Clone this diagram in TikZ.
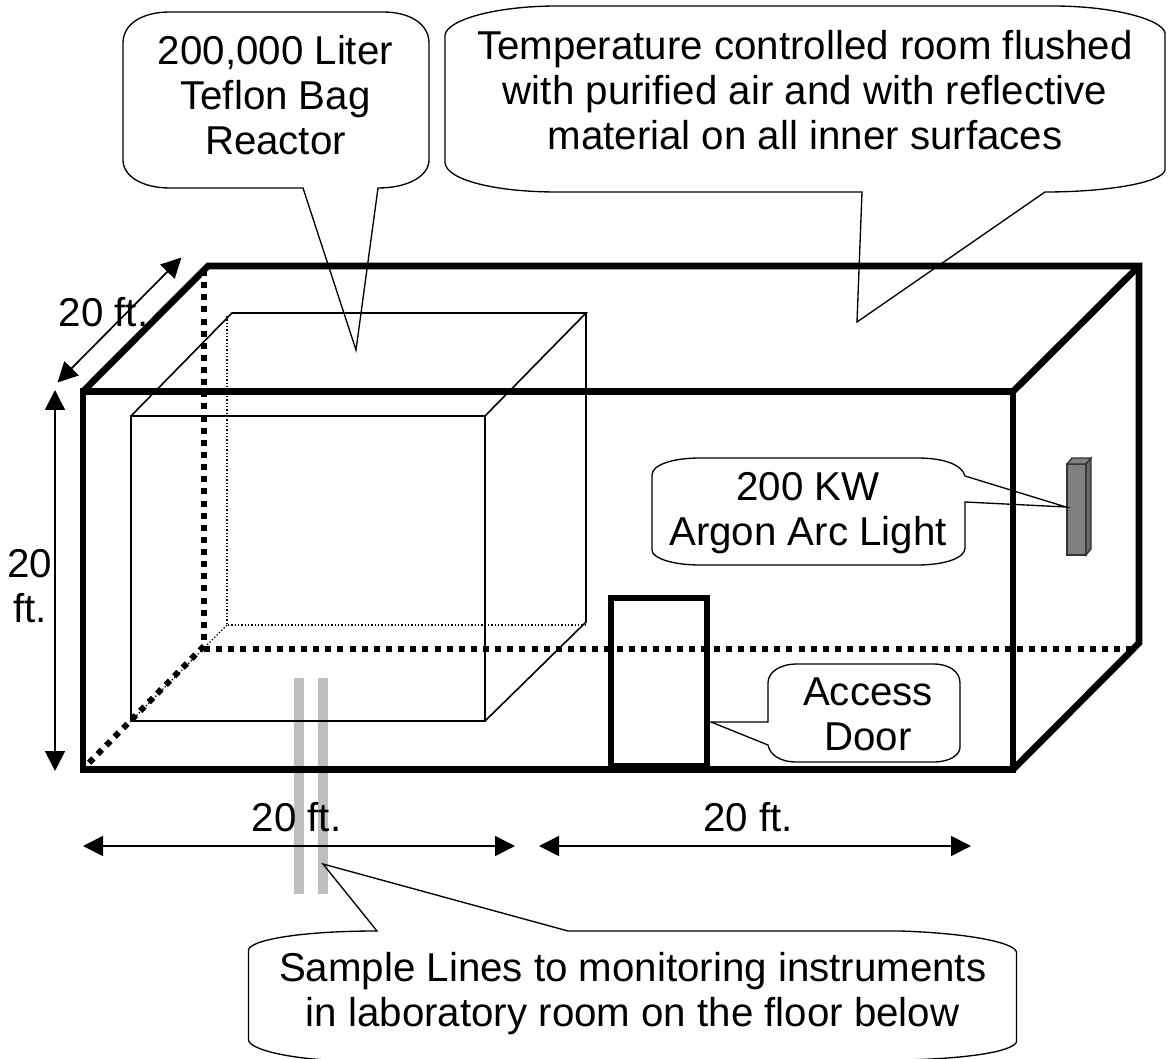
\documentclass[tikz,border=0pt]{standalone}
\usepackage{fontspec}
\setmainfont{Liberation Sans}
\usetikzlibrary{arrows.meta}
\tikzset{
  wall/.style={line width=5pt,line join=miter},
  hidden/.style={line width=4.5pt,dash pattern=on 4.5pt off 4.6pt},
  bagline/.style={line width=1.2pt},
  bagdots/.style={line width=1pt,dash pattern=on 1pt off 1.5pt},
  sampleline/.style={line width=7.5pt,draw=black!25},
  callout/.style={line width=1pt,line join=miter},
  lamp/.style={line width=1pt,draw=black!80},
  dimline/.style={line width=1.25pt,{Triangle[length=15pt,width=15pt]}-{Triangle[length=15pt,width=15pt]}},
  label/.style={font=\fontsize{30.2}{33.75}\selectfont,align=center,inner sep=0pt,anchor=base},
}
\begin{document}
\begin{tikzpicture}[x=0.75pt,y=-0.75pt]
\useasboundingbox (0,0) rectangle (1168,1059);
% sample lines
\draw[sampleline] (299,678) -- (299,894);
\draw[sampleline] (323,678) -- (323,894);
% reactor bag
\draw[bagline] (131,416) rectangle (485,721);
\draw[bagline] (131,416) -- (232,313) -- (586,313) -- (485,416);
\draw[bagline] (586,313) -- (586,622) -- (485,721);
\draw[bagdots] (227,316) -- (227,625) -- (586,625);
\draw[bagdots] (227,625) -- (131,721);
% room
\draw[hidden] (204,270) -- (204,649);
\draw[hidden] (204,649) -- (1135,649);
\draw[hidden] (204,646) -- (83,769);
\draw[wall] (83,391.5) rectangle (1013,769.5);
\draw[wall] (83,391.5) -- (208,266) -- (1139,266) -- (1139,643) -- (1013,769.5);
\draw[wall] (1139,266) -- (1013,391.5);
% door
\draw[line width=4.5pt] (611,598) rectangle (707,766);
% light
\draw[lamp,fill=black!50] (1067,464) rectangle (1086,555);
\draw[lamp,fill=black!50] (1067,464) -- (1072,458) -- (1091,458) -- (1086,464) -- cycle;
\draw[lamp,fill=black!60] (1086,464) -- (1091,458) -- (1091,549) -- (1086,555) -- cycle;
% dimensions
\draw[dimline] (57.5,382.5) -- (181.5,257.5);
\draw[dimline] (55,390) -- (55,771);
\draw[dimline] (83,846) -- (515,846);
\draw[dimline] (539,846) -- (971,846);
% callouts
\draw[callout] (123,43) .. controls (123,24) and (142,12) .. (170,12) -- (383,12)
  .. controls (410,12) and (429,24) .. (429,43) -- (429,160)
  .. controls (429,176) and (408,188) .. (378,188) -- (356,350) -- (303,188) -- (170,188)
  .. controls (142,188) and (123,176) .. (123,160) -- cycle;
\draw[callout] (445,35) .. controls (447,20) and (495,6) .. (557,6) -- (1053,6)
  .. controls (1115,6) and (1163,20) .. (1165,33) -- (1165,170)
  .. controls (1163,182) and (1110,192) .. (1045,192) -- (857,322) -- (862,192) -- (557,192)
  .. controls (495,192) and (447,180) .. (445,163) -- cycle;
\draw[callout] (652,475) .. controls (652,465) and (672,458) .. (700,458) -- (917,458)
  .. controls (945,458) and (962,465) .. (965,476) -- (1066,507) -- (965,502) -- (965,548)
  .. controls (965,558) and (945,565) .. (917,565) -- (700,565)
  .. controls (672,565) and (652,558) .. (652,550) -- cycle;
\draw[callout] (768,683) .. controls (768,672) and (780,664) .. (797,664) -- (933,664)
  .. controls (950,664) and (960,672) .. (960,683) -- (960,747)
  .. controls (960,755) and (950,762) .. (933,762) -- (797,762)
  .. controls (780,762) and (770,755) .. (768,745) -- (711,722) -- (768,722) -- cycle;
\draw[callout] (248.5,950) .. controls (250,940) and (300,931) .. (377,931) -- (323,864) -- (568,931) -- (900,931)
  .. controls (965,933) and (1014,942) .. (1016.5,952) -- (1016.5,1042)
  .. controls (1012,1052) and (965,1059) .. (900,1060) -- (327,1060)
  .. controls (290,1058) and (250,1050) .. (248.5,1040) -- cycle;
% labels
\node[label] (baglabel) at (275.5,155) {200,000 Liter\\Teflon Bag\\Reactor};
\node[label] (roomlabel) at (805,150) {Temperature controlled room flushed\\with purified air and with reflective\\material on all inner surfaces};
\node[label] (lightlabel) at (808,545.7) {200 KW\\Argon Arc Light};
\node[label] (doorlabel) at (868,750.7) {Access\\Door};
\node[label] (samplelabel) at (632.7,1026.7) {Sample Lines to monitoring instruments\\in laboratory room on the floor below};
\node[label] (depthlabel) at (103.5,327) {20 ft.};
\node[label] (heightlabel) at (30,622) {20\\ft.};
\node[label] (widthlabel) at (296.5,831) {20 ft.};
\node[label] (lengthlabel) at (748,831) {20 ft.};
\end{tikzpicture}
\end{document}
